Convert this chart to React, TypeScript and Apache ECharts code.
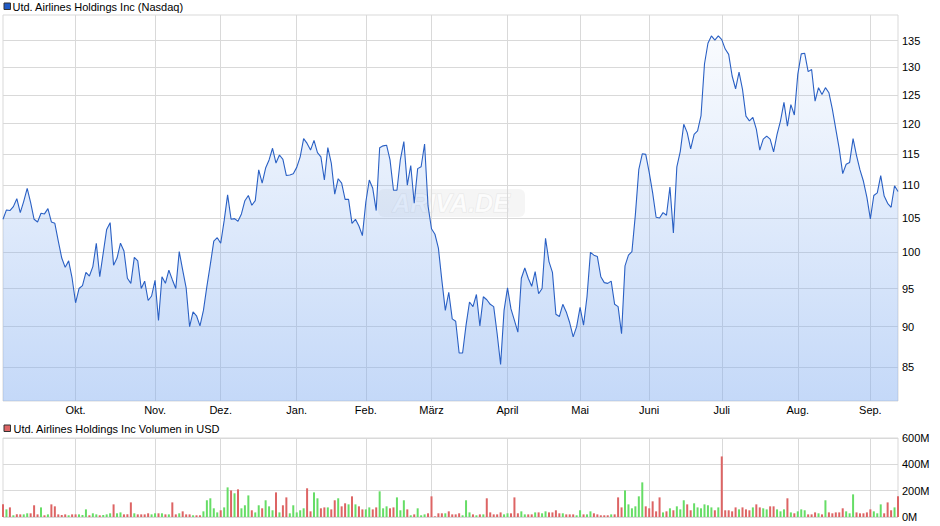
import React, { useEffect, useRef } from "react";
import * as echarts from "echarts";

const monthLabels = ["Sep.", "Okt.", "Nov.", "Dez.", "Jan.", "Feb.", "März", "April", "Mai", "Juni", "Juli", "Aug.", "Sep."];
const monthTradingDays = [21, 23, 19, 22, 20, 19, 22, 21, 20, 21, 22, 21, 9];
const priceTicks = [85, 90, 95, 100, 105, 110, 115, 120, 125, 130, 135];

const prices = [
  104.8, 106.2, 106.1, 106.7, 107.9, 105.8, 107.5, 109.5, 107.3, 104.8,
  104.4, 105.7, 105.6, 106.4, 104.4, 104.2, 101.6, 99.2, 97.9, 98.8,
  96.4, 93.1, 95.0, 95.4, 97.2, 96.7, 98.0, 101.3, 96.6, 99.9,
  103.3, 104.3, 98.2, 99.2, 101.3, 100.2, 96.4, 95.7, 99.3, 98.8,
  95.0, 96.0, 93.4, 94.0, 96.1, 90.8, 96.6, 95.7, 97.5, 96.2,
  95.0, 100.1, 97.5, 95.1, 90.0, 91.9, 91.4, 90.1, 92.1, 95.3,
  98.3, 101.6, 102.1, 101.3, 104.6, 108.5, 104.8, 104.9, 104.5, 105.6,
  107.6, 108.4, 106.9, 107.6, 112.4, 110.3, 112.7, 114.0, 115.9, 113.5,
  114.8, 114.1, 111.5, 111.6, 111.8, 112.8, 114.5, 117.5, 116.7, 115.6,
  117.2, 115.2, 114.5, 110.8, 116.0, 113.5, 108.6, 111.0, 110.3, 107.8,
  107.8, 104.2, 104.8, 103.8, 102.4, 107.4, 110.8, 109.5, 106.1, 116.0,
  116.3, 116.4, 114.0, 109.2, 109.2, 114.1, 117.0, 110.0, 113.1, 107.2,
  112.6, 112.9, 116.6, 106.8, 103.4, 102.6, 100.6, 96.1, 92.1, 94.5,
  91.0, 90.7, 86.7, 86.7, 90.2, 93.2, 92.6, 94.2, 90.1, 93.9,
  93.5, 92.9, 92.6, 89.1, 85.3, 92.1, 95.1, 92.3, 90.8, 89.3,
  96.4, 97.8, 96.4, 95.3, 97.3, 94.3, 95.0, 102.0, 98.7, 97.2,
  91.6, 91.3, 92.9, 91.9, 90.5, 88.7, 90.0, 92.5, 90.2, 93.9,
  100.0, 99.6, 99.4, 96.6, 95.8, 95.7, 96.0, 92.9, 92.6, 89.1,
  98.1, 99.6, 100.1, 105.5, 112.5, 115.0, 114.9, 112.0, 108.8, 105.1,
  105.0, 105.8, 105.4, 109.7, 102.8, 112.9, 115.4, 119.9, 118.5, 115.8,
  118.2, 118.8, 121.4, 130.6, 134.5, 135.9, 135.1, 135.9, 135.2, 133.4,
  132.4, 128.4, 126.1, 129.1, 126.0, 121.3, 120.5, 121.1, 119.1, 115.6,
  117.4, 117.9, 117.4, 115.3, 118.2, 120.5, 123.7, 119.6, 123.3, 121.5,
  128.7, 132.5, 132.6, 129.2, 129.6, 123.9, 126.3, 125.1, 126.3, 125.4,
  122.5, 119.1, 115.8, 111.8, 113.3, 113.6, 117.5, 114.7, 112.4, 110.6,
  108.1, 104.85, 108.4, 108.8, 111.5, 108.3, 107.2, 106.6, 109.9, 109.0,
];

// volume in million USD
const volumes = [
  96, 58, 73, 13, 20, 20, 20, 28, 28, 89,
  20, 73, 13, 20, 96, 81, 20, 15, 20, 13,
  20, 20, 20, 15, 58, 13, 28, 20, 13, 15,
  20, 28, 96, 28, 35, 20, 20, 111, 28, 20,
  20, 20, 28, 20, 28, 28, 28, 20, 20, 111,
  20, 28, 43, 20, 20, 13, 13, 13, 43, 127,
  142, 66, 35, 51, 73, 225, 202, 180, 210, 66,
  89, 164, 51, 35, 89, 66, 127, 81, 51, 187,
  35, 89, 149, 28, 89, 35, 51, 66, 218, 43,
  187, 142, 66, 73, 73, 58, 127, 142, 81, 104,
  96, 157, 96, 81, 58, 58, 73, 58, 73, 195,
  66, 81, 66, 73, 149, 51, 127, 58, 13, 20,
  66, 13, 20, 28, 157, 5, 28, 28, 28, 43,
  20, 20, 28, 13, 127, 35, 20, 13, 20, 20,
  142, 35, 20, 20, 35, 20, 28, 28, 149, 28,
  43, 20, 20, 20, 35, 35, 28, 43, 35, 35,
  51, 28, 28, 20, 20, 20, 13, 51, 20, 20,
  43, 28, 20, 13, 13, 13, 20, 20, 149, 73,
  202, 96, 66, 81, 157, 263, 81, 66, 119, 43,
  149, 35, 43, 66, 51, 81, 58, 127, 96, 51,
  104, 73, 66, 96, 89, 73, 51, 73, 460, 51,
  51, 43, 73, 58, 73, 58, 51, 73, 96, 73,
  66, 58, 81, 81, 58, 43, 58, 142, 35, 28,
  43, 58, 51, 20, 20, 35, 28, 20, 127, 35,
  28, 35, 35, 66, 43, 28, 172, 35, 28, 28,
  35, 58, 43, 28, 96, 28, 111, 51, 73, 157,
];

// g = up day (green), r = down day (red)
const volumeDirection = [
  "rgrgrrggrr", "rgrgrrrrrg", "rrgggrggrg", "ggrggrrrgr", "rrrggrgrgr",
  "rgrrrgrrgg", "gggrggrgrg", "ggrggrgggr", "grrgggggrr", "ggrrgrrgrr",
  "grgrrggrrg", "ggrrgggrgr", "gggrrrrrgr", "rrrgggrgrg", "rrrrrggrrr",
  "ggrrgrggrr", "rrgrrrggrg", "grrrrrgrrr", "ggggggrrrr", "rgrgrgggrr",
  "ggggggrgrr", "rrrgrrrgrr", "ggrrgggrgr", "gggrrrgrgr", "rrrrgggrrr",
  "rrgggrrrgr",
].join("");

const priceName = "Utd. Airlines Holdings Inc (Nasdaq)";
const volumeName = "Utd. Airlines Holdings Inc Volumen in USD";

const categories: string[] = [];
monthTradingDays.forEach((n, m) => {
  for (let d = 0; d < n; d++) categories.push(`${m}:${d}`);
});

const isMonthStart = (_i: number, value: string) => {
  const [m, d] = value.split(":");
  return d === "0" && m !== "0";
};
const monthFormatter = (value: string) => monthLabels[parseInt(value.split(":")[0], 10)];

const FONT = "'Liberation Sans', Arial, sans-serif";
const GRID_COLOR = "#d9d9d9";
const RED = "#dd6464";
const GREEN = "#66dd66";

export default function App() {
  const ref = useRef<HTMLDivElement>(null);
  useEffect(() => {
    document.body.style.margin = "0";
    if (!ref.current) return;
    const chart = echarts.init(ref.current, undefined, { renderer: "svg" });
    chart.setOption({
      animation: false,
      textStyle: { fontFamily: FONT },
      grid: [
        { left: 3, top: 15, right: 42, height: 386, show: true, borderColor: GRID_COLOR, borderWidth: 1 },
        { left: 3, top: 438, right: 42, height: 79, show: true, borderColor: GRID_COLOR, borderWidth: 1 },
      ],
      xAxis: [
        {
          gridIndex: 0,
          type: "category",
          data: categories,
          boundaryGap: false,
          axisLine: { show: false },
          axisTick: { show: false, interval: isMonthStart },
          axisLabel: { interval: isMonthStart, formatter: monthFormatter, fontSize: 11, color: "#000", margin: 3, fontFamily: FONT },
          splitLine: { show: true, interval: isMonthStart, lineStyle: { color: GRID_COLOR, width: 1 } },
        },
        {
          gridIndex: 1,
          type: "category",
          data: categories,
          boundaryGap: false,
          axisLine: { show: false },
          axisTick: { show: false, interval: isMonthStart },
          axisLabel: { show: false, interval: isMonthStart },
          splitLine: { show: true, interval: isMonthStart, lineStyle: { color: GRID_COLOR, width: 1 } },
        },
      ],
      yAxis: [
        {
          gridIndex: 0,
          type: "log",
          logBase: 10,
          min: 81,
          max: 140,
          position: "right",
          axisLine: { show: false },
          axisTick: { show: false, customValues: priceTicks },
          axisLabel: { customValues: priceTicks, fontSize: 11, color: "#000", margin: 4, fontFamily: FONT },
          splitLine: { show: true, lineStyle: { color: GRID_COLOR, width: 1 } },
        },
        {
          gridIndex: 1,
          type: "value",
          min: 0,
          max: 600,
          interval: 200,
          position: "right",
          axisLine: { show: false },
          axisTick: { show: false },
          axisLabel: { formatter: "{value}M", fontSize: 11, color: "#000", margin: 4, fontFamily: FONT },
          splitLine: { show: true, lineStyle: { color: GRID_COLOR, width: 1 } },
        },
      ],
      series: [
        {
          name: priceName,
          type: "line",
          xAxisIndex: 0,
          yAxisIndex: 0,
          data: prices,
          showSymbol: false,
          symbol: "none",
          lineStyle: { color: "#2a60c4", width: 1.1 },
          itemStyle: { color: "#2a60c4" },
          areaStyle: {
            origin: "start",
            color: new echarts.graphic.LinearGradient(0, 0, 0, 1, [
              { offset: 0, color: "rgba(128,172,240,0.06)" },
              { offset: 1, color: "rgba(128,172,240,0.66)" },
            ]),
          },
          z: 3,
        },
        {
          name: volumeName,
          type: "bar",
          xAxisIndex: 1,
          yAxisIndex: 1,
          barWidth: 2,
          data: volumes.map((v, i) => ({
            value: v,
            itemStyle: { color: volumeDirection[i] === "g" ? GREEN : RED },
          })),
        },
      ],
      graphic: [
        { type: "rect", left: 3.5, top: 2.5, shape: { width: 6.5, height: 6.5 }, style: { fill: "#1f5ac6", stroke: "#333", lineWidth: 1 } },
        { type: "text", left: 12.5, top: 1, style: { text: priceName, fontSize: 11, fontFamily: FONT, fill: "#000" } },
        { type: "rect", left: 3.5, top: 424.5, shape: { width: 6.5, height: 6.5 }, style: { fill: RED, stroke: "#333", lineWidth: 1 } },
        { type: "text", left: 13.5, top: 423, style: { text: volumeName, fontSize: 11, fontFamily: FONT, fill: "#000" } },
        {
          type: "group",
          z: 1,
          children: [
            { type: "rect", shape: { x: 378, y: 189, width: 147, height: 28, r: 6 }, style: { fill: "rgba(215,215,215,0.25)" } },
            {
              type: "text",
              x: 451,
              y: 203,
              style: {
                text: "ARIVA.DE",
                fontSize: 25,
                fontStyle: "italic",
                fontWeight: "bold",
                fontFamily: FONT,
                fill: "rgba(255,255,255,0.75)",
                stroke: "rgba(205,205,205,0.4)",
                lineWidth: 1,
                align: "center",
                verticalAlign: "middle",
              },
            },
          ],
        },
      ],
    });
    return () => chart.dispose();
  }, []);
  return <div ref={ref} style={{ width: 940, height: 526 }} />;
}
